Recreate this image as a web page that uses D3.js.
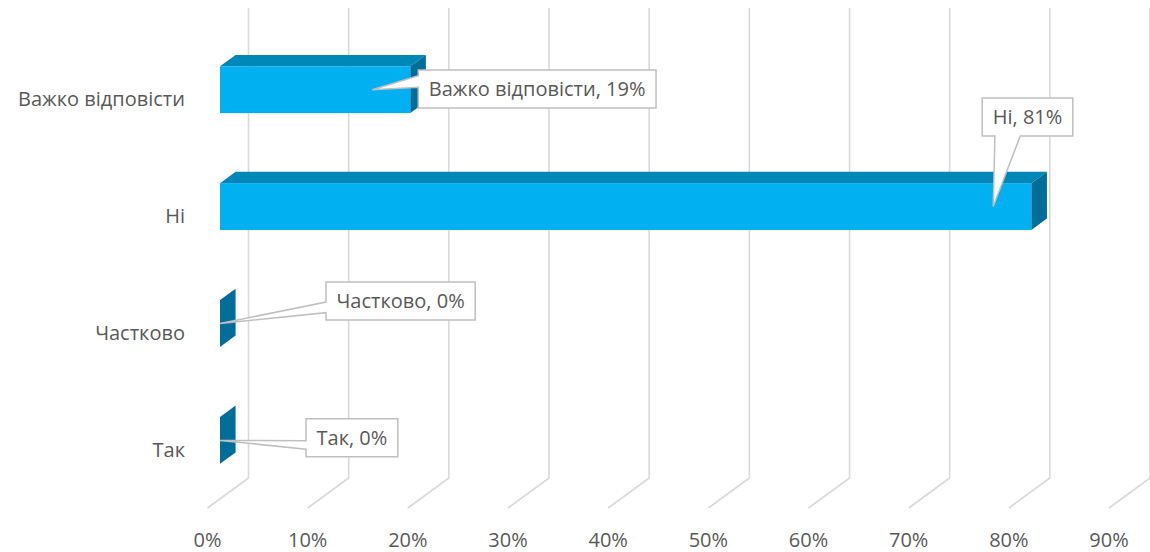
<!DOCTYPE html>
<html>
<head>
<meta charset="utf-8">
<script src="https://cdn.jsdelivr.net/npm/d3@7"></script>
<style>
  body { margin: 0; background: #fff; }
  text { font-family: "Open Sans", "Noto Sans", sans-serif; fill: #595959; }
</style>
</head>
<body>
<div id="chart"></div>
<script>
// data
var categories = ["Важко відповісти", "Ні", "Частково", "Так"];
var values = [0.19, 0.81, 0, 0];
var tickValues = [0, 0.1, 0.2, 0.3, 0.4, 0.5, 0.6, 0.7, 0.8, 0.9];
var tickLabels = ["0%", "10%", "20%", "30%", "40%", "50%", "60%", "70%", "80%", "90%"];
var dataLabels = ["Важко відповісти, 19%", "Ні, 81%", "Частково, 0%", "Так, 0%"];

// callout placement (tip as share of the bar, box offset from tip, wedge side)
var labelLayout = [
  { tipFrac: 0.8,   dx: 46,  dy: -19.7,  side: "left",   base: [0.15, 0.455] },
  { tipFrac: 0.953, dx: -11, dy: -108.7, side: "bottom", base: [0.14, 0.42] },
  { tipFrac: 0,     dx: 106, dy: -41.6,  side: "left",   base: [0.53, 0.81] },
  { tipFrac: 0,     dx: 86,  dy: -21.6,  side: "left",   base: [0.58, 0.80] }
];

var svgWidth = 1150;
var svgHeight = 552;

var fontSize = 20;
var depthDx = 41, depthDy = -30;   // floor depth (front -> back wall)
var d0 = 0.305, d1 = 0.685;        // bar depth inside the floor
var floorY = 508, wallTop = 8;

var svg = d3.select("#chart")
  .append("svg")
  .attr("width", svgWidth)
  .attr("height", svgHeight);

var xScale = d3.scaleLinear()
  .domain([0, 0.9])
  .range([207.5, 1109]);

var yScale = d3.scaleBand()
  .domain(categories)
  .range([40.4, floorY])
  .paddingInner(0.6)
  .paddingOuter(0.3);

// gridlines: back wall + floor
var grid = svg.append("g");
tickValues.forEach(function(t) {
  var xf = xScale(t);
  grid.append("path")
    .attr("d", `M${xf + depthDx},${wallTop} L${xf + depthDx},${floorY + depthDy} L${xf},${floorY}`)
    .attr("fill", "none")
    .attr("stroke", "#D9D9D9")
    .attr("stroke-width", 1.6);
});

// x tick labels
svg.append("g").selectAll("text")
  .data(tickValues)
  .enter()
  .append("text")
  .attr("x", d => xScale(d))
  .attr("y", 547)
  .attr("text-anchor", "middle")
  .style("font-size", fontSize + "px")
  .text((d, i) => tickLabels[i]);

// category labels
svg.append("g").selectAll("text")
  .data(categories)
  .enter()
  .append("text")
  .attr("x", 185)
  .attr("y", d => yScale(d) + yScale.bandwidth() / 2)
  .attr("dy", "0.35em")
  .attr("text-anchor", "end")
  .style("font-size", fontSize + "px")
  .text(d => d);

// 3d bars
var bw = yScale.bandwidth();
var ddx = depthDx * (d1 - d0), ddy = depthDy * (d1 - d0);
var bars = svg.append("g");

categories.forEach(function(c, i) {
  var x0 = xScale(0) + depthDx * d0;
  var x1 = xScale(values[i]) + depthDx * d0;
  var y0 = yScale(c) + depthDy * d0;
  var y1 = y0 + bw;
  var g = bars.append("g");
  if (values[i] > 0) {
    g.append("rect")
      .attr("x", x0).attr("y", y0)
      .attr("width", x1 - x0).attr("height", bw)
      .attr("fill", "#00B0F0");
    g.append("polygon")
      .attr("points", [[x0, y0], [x1, y0], [x1 + ddx, y0 + ddy], [x0 + ddx, y0 + ddy]].join(" "))
      .attr("fill", "#0087BA");
  }
  g.append("polygon")
    .attr("points", [[x1, y0], [x1 + ddx, y0 + ddy], [x1 + ddx, y1 + ddy], [x1, y1]].join(" "))
    .attr("fill", "#006E98");
});

// callout labels
var labels = svg.append("g");
categories.forEach(function(c, i) {
  var lay = labelLayout[i];
  var tx = xScale(values[i] * lay.tipFrac) + depthDx * d0;
  var ty = yScale(c) + depthDy * d0 + bw / 2;
  var g = labels.append("g");
  var txt = g.append("text")
    .style("font-size", fontSize + "px")
    .attr("text-anchor", "middle")
    .attr("dy", "0.35em")
    .text(dataLabels[i]);
  var w = txt.node().getComputedTextLength() + 21;
  var h = 38;
  var left = tx + lay.dx, top = ty + lay.dy;
  var right = left + w, bottom = top + h;
  var p;
  if (lay.side === "left") {
    p = `M${left},${top} L${right},${top} L${right},${bottom} L${left},${bottom} ` +
        `L${left},${top + lay.base[1] * h} L${tx},${ty} L${left},${top + lay.base[0] * h} Z`;
  } else {
    p = `M${left},${top} L${right},${top} L${right},${bottom} L${left + lay.base[1] * w},${bottom} ` +
        `L${tx},${ty} L${left + lay.base[0] * w},${bottom} L${left},${bottom} Z`;
  }
  g.insert("path", "text")
    .attr("d", p)
    .attr("fill", "#fff")
    .attr("stroke", "#BFBFBF")
    .attr("stroke-width", 1.5);
  txt.attr("x", left + w / 2).attr("y", top + h / 2);
});
</script>
</body>
</html>
